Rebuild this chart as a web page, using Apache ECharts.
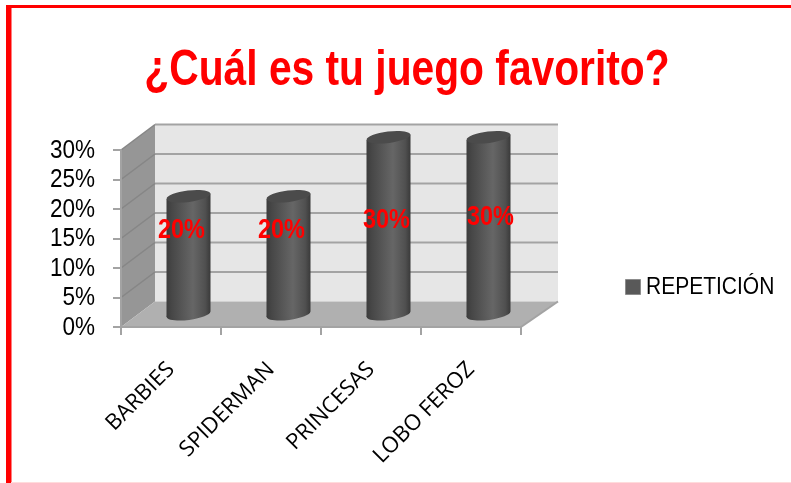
<!DOCTYPE html>
<html>
<head>
<meta charset="utf-8">
<style>html,body{margin:0;padding:0;background:#fff}#c{width:791px;height:483px}</style>
<script src="https://cdn.jsdelivr.net/npm/echarts@6/dist/echarts.min.js"></script>
</head>
<body>
<div id="c"></div>
<script>
const categories = ['BARBIES', 'SPIDERMAN', 'PRINCESAS', 'LOBO FEROZ'];
const repeticion = [20, 20, 30, 30];
const yTicks = [0, 5, 10, 15, 20, 25, 30];
const seriesName = 'REPETICIÓN';
const titleText = '¿Cuál es tu juego favorito?';

const SANS = '"Liberation Sans",sans-serif';
const DX = 34, DY = -25.5;                 // depth of the 3D box
const RX = 22, RY = 5.7, TILT = 0.12;      // cylinder shape
const labelNudge = [[-7, -25], [-7, -25], [-2, -5], [2, -8]];

const chart = echarts.init(document.getElementById('c'), null, { renderer: 'canvas' });

function renderBox(params, api) {
  const v = api.value(0);
  const nCat = categories.length;
  const xL = api.coord([0, 0])[0] - api.size([1, 0])[0] / 2;
  const xR = xL + api.size([1, 0])[0] * nCat;
  const y = api.coord([0, v])[1];
  const lineBack = { stroke: '#a3a3a3', lineWidth: 2 };
  const lineSide = { stroke: '#868686', lineWidth: 1.5 };
  const children = [];
  if (v === yTicks[0]) {
    const yTop = api.coord([0, yTicks[yTicks.length - 1]])[1];
    children.push({ type: 'polygon', shape: { points: [[xL + DX, yTop + DY], [xR + DX + 3, yTop + DY], [xR + DX + 3, y + DY], [xL + DX, y + DY]] }, style: { fill: '#e6e6e6' } });
    children.push({ type: 'polygon', shape: { points: [[xL, yTop], [xL + DX, yTop + DY], [xL + DX, y + DY], [xL, y]] }, style: { fill: '#969696' } });
    children.push({ type: 'polygon', shape: { points: [[xL, y], [xL + DX, y + DY], [xR + DX + 3, y + DY], [xR, y]] }, style: { fill: '#b0b0b0' } });
    children.push({ type: 'line', shape: { x1: xR, y1: y, x2: xR + DX + 3, y2: y + DY }, style: { stroke: '#a3a3a3', lineWidth: 2 } });
  } else {
    children.push({ type: 'line', shape: { x1: xL + DX, y1: y + DY, x2: xR + DX + 3, y2: y + DY }, style: lineBack });
    children.push({ type: 'line', shape: { x1: xL, y1: y, x2: xL + DX, y2: y + DY }, style: lineSide });
  }
  // Tick label: condensed so it keeps the reference's height and width
  children.push({ type: 'text', x: xL - 26, y: y + 1, scaleX: 0.9, style: { text: v + '%', x: 0, y: 0, align: 'right', verticalAlign: 'middle', fill: '#000', font: '25px ' + SANS } });
  return { type: 'group', children };
}

function renderCyl(params, api) {
  const i = api.value(0), v = api.value(1);
  const top = api.coord([i, v]);
  const bot = api.coord([i, 0]);
  const cx = top[0] + DX / 2 + 0.5, yT = top[1] + DY / 2, yB = bot[1] + DY / 2;
  const slope = RX * Math.tan(TILT);
  const grad = new echarts.graphic.LinearGradient(0, 0, 1, 0, [
    { offset: 0, color: '#3c3c3c' }, { offset: 0.12, color: '#474747' },
    { offset: 0.6, color: '#666666' }, { offset: 0.88, color: '#505050' }, { offset: 1, color: '#3a3a3a' }
  ]);
  const n = labelNudge[params.dataIndex];
  const ell = (cy, fill) => ({
    type: 'ellipse', shape: { cx: cx, cy: cy, rx: RX, ry: RY },
    rotation: TILT, originX: cx, originY: cy, style: { fill: fill }
  });
  return {
    type: 'group',
    children: [
      ell(yB, grad),
      { type: 'polygon', shape: { points: [[cx - RX, yT + slope], [cx + RX, yT - slope], [cx + RX, yB - slope], [cx - RX, yB + slope]] }, style: { fill: grad } },
      ell(yT, '#4b4b4b'),
      { type: 'text', z2: 10, x: cx + n[0], y: (yT + yB) / 2 + n[1], scaleX: 0.87, style: { text: v + '%', x: 0, y: 0, align: 'center', verticalAlign: 'middle', fill: '#ff0000', font: 'bold 27px ' + SANS } }
    ]
  };
}

chart.setOption({
  animation: false,
  backgroundColor: '#ffffff',
  color: ['#595959'],
  legend: {
    data: [{ name: seriesName, icon: 'rect', itemStyle: { color: '#595959', borderColor: '#8c8c8c', borderWidth: 1 } }],
    left: 620, top: 274, itemWidth: 15, itemHeight: 15, itemGap: 0, selectedMode: false,
    formatter: () => ' ',
    textStyle: { fontFamily: SANS, fontSize: 12 }
  },
  grid: { left: 121, top: 150, width: 400, height: 177, containLabel: false },
  xAxis: {
    type: 'category', data: categories, boundaryGap: true,
    axisLine: { lineStyle: { color: '#a3a3a3', width: 2 } },
    axisTick: { show: true, length: 8, alignWithLabel: false, lineStyle: { color: '#a3a3a3', width: 2 } },
    axisLabel: { rotate: 45, interval: 0, margin: 39, color: '#000', fontFamily: '"Open Sans",sans-serif', fontSize: 22 },
    splitLine: { show: false }, z: 5
  },
  yAxis: {
    type: 'value', min: 0, max: 30, interval: 5,
    axisLine: { show: true, lineStyle: { color: '#a3a3a3', width: 2 } },
    axisTick: { show: true, length: 8, lineStyle: { color: '#a3a3a3', width: 2 } },
    axisLabel: { show: false },
    splitLine: { show: false }, z: 5
  },
  series: [
    { type: 'custom', name: 'box', silent: true, z: 1, coordinateSystem: 'cartesian2d', renderItem: renderBox, encode: { y: 0 }, clip: false, data: yTicks.map(t => [t]) },
    { type: 'custom', name: seriesName, silent: true, z: 2, coordinateSystem: 'cartesian2d', renderItem: renderCyl, encode: { x: 0, y: 1 }, itemStyle: { color: '#595959' }, data: repeticion.map((v, i) => [i, v]) }
  ],
  graphic: [
    { type: 'text', silent: true, z: 50, x: 407, y: 71, scaleX: 0.815, style: { text: titleText, x: 0, y: 0, align: 'center', verticalAlign: 'middle', fill: '#ff0000', font: 'bold 50px ' + SANS } },
    { type: 'text', silent: true, z: 50, x: 646, y: 287, scaleX: 0.875, style: { text: seriesName, x: 0, y: 0, align: 'left', verticalAlign: 'middle', fill: '#000', font: '24px ' + SANS } },
    { type: 'rect', silent: true, z: 100, shape: { x: 6, y: 5, width: 785, height: 3 }, style: { fill: '#ff0000' } },
    { type: 'rect', silent: true, z: 100, shape: { x: 6, y: 5, width: 5.5, height: 478 }, style: { fill: '#ff0000' } },
    { type: 'rect', silent: true, z: 100, shape: { x: 11, y: 482, width: 780, height: 1 }, style: { fill: '#ffdcdc' } }
  ]
});
</script>
</body>
</html>
